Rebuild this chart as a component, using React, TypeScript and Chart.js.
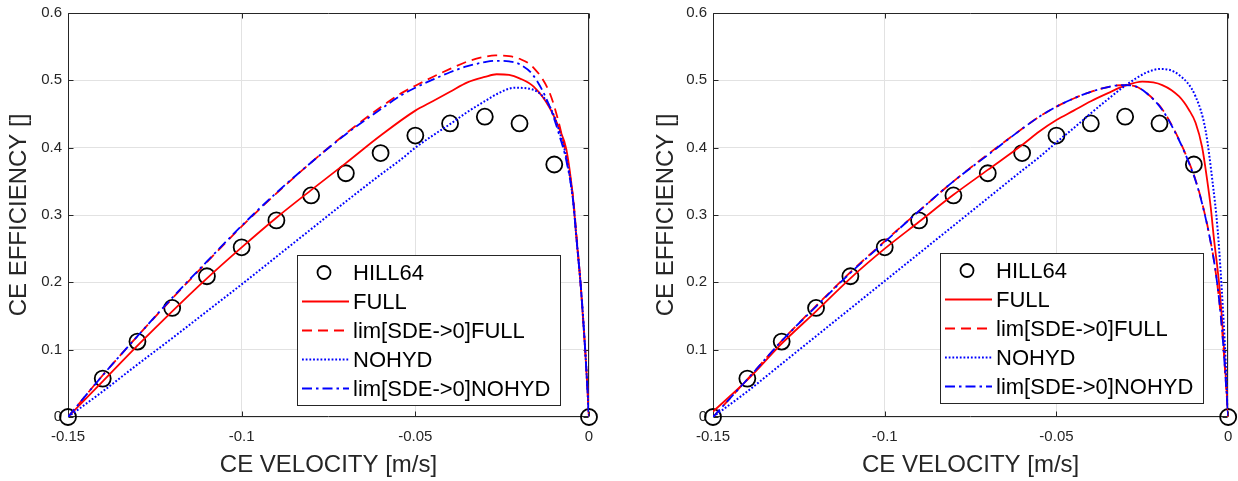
import React, { useEffect, useRef } from "react";
import { Chart, registerables } from "chart.js";

Chart.register(...registerables);

// ---------- data ----------
const X_TICKS = [-0.15, -0.1, -0.05, 0];
const X_TICK_LABELS = ["-0.15", "-0.1", "-0.05", "0"];
const Y_TICKS = [0, 0.1, 0.2, 0.3, 0.4, 0.5, 0.6];
const Y_TICK_LABELS = ["0", "0.1", "0.2", "0.3", "0.4", "0.5", "0.6"];

const SERIES_NAMES = ["HILL64", "FULL", "lim[SDE->0]FULL", "NOHYD", "lim[SDE->0]NOHYD"];

const hillX = [-0.15, -0.14, -0.13, -0.12, -0.11, -0.1, -0.09, -0.08, -0.07, -0.06, -0.05, -0.04, -0.03, -0.02, -0.01, 0];
const hillY = [0, 0.057, 0.112, 0.162, 0.209, 0.252, 0.292, 0.329, 0.362, 0.392, 0.418, 0.436, 0.446, 0.436, 0.375, 0];

// left panel
const leftFullX = [-0.15, -0.14, -0.13, -0.12, -0.11, -0.1, -0.09, -0.08, -0.07, -0.06, -0.05, -0.045, -0.04, -0.035, -0.03, -0.0266, -0.023, -0.02, -0.016, -0.0113, -0.0084, -0.0065, -0.0046, -0.0036, -0.0023, -0.0011, 0];
const leftFullY = [0, 0.053, 0.106, 0.157, 0.206, 0.252, 0.296, 0.337, 0.377, 0.418, 0.455, 0.469, 0.483, 0.497, 0.505, 0.509, 0.508, 0.503, 0.491, 0.459, 0.426, 0.397, 0.325, 0.265, 0.19, 0.1, 0];

const leftLimFullX = [-0.15, -0.14, -0.13, -0.12, -0.11, -0.1, -0.09, -0.08, -0.07, -0.06, -0.054, -0.05, -0.045, -0.04, -0.035, -0.03, -0.027, -0.023, -0.02, -0.016, -0.0113, -0.0084, -0.0065, -0.0046, -0.0036, -0.0023, -0.0011, 0];
const leftLimFullY = [0, 0.062, 0.12, 0.176, 0.23, 0.283, 0.332, 0.378, 0.421, 0.46, 0.481, 0.492, 0.505, 0.517, 0.528, 0.535, 0.537, 0.536, 0.532, 0.519, 0.481, 0.431, 0.386, 0.327, 0.27, 0.19, 0.1, 0];

const leftNohydX = [-0.15, -0.14, -0.13, -0.12, -0.11, -0.1, -0.09, -0.08, -0.07, -0.06, -0.054, -0.05, -0.045, -0.04, -0.035, -0.03, -0.026, -0.0214, -0.016, -0.0113, -0.0084, -0.0065, -0.0046, -0.0036, -0.0023, -0.0011, 0];
const leftNohydY = [0, 0.038, 0.078, 0.117, 0.157, 0.197, 0.238, 0.279, 0.32, 0.36, 0.383, 0.4, 0.418, 0.435, 0.453, 0.469, 0.481, 0.489, 0.486, 0.461, 0.422, 0.385, 0.322, 0.265, 0.19, 0.1, 0];

const leftLimNohydX = [-0.15, -0.14, -0.13, -0.12, -0.11, -0.1, -0.09, -0.08, -0.07, -0.06, -0.054, -0.05, -0.045, -0.04, -0.035, -0.03, -0.027, -0.023, -0.02, -0.016, -0.0113, -0.0084, -0.0065, -0.0046, -0.0036, -0.0023, -0.0011, 0];
const leftLimNohydY = [0, 0.062, 0.12, 0.177, 0.231, 0.284, 0.333, 0.378, 0.42, 0.457, 0.478, 0.489, 0.501, 0.512, 0.521, 0.527, 0.529, 0.528, 0.524, 0.507, 0.461, 0.416, 0.38, 0.322, 0.265, 0.19, 0.1, 0];

// right panel
const rightFullX = [-0.15, -0.14, -0.13, -0.12, -0.11, -0.1, -0.09, -0.08, -0.07, -0.06, -0.055, -0.05, -0.045, -0.04, -0.035, -0.03, -0.025, -0.0192, -0.0143, -0.0114, -0.0095, -0.0076, -0.0061, -0.0051, -0.0042, -0.0025, -0.0012, 0];
const rightFullY = [0.008, 0.055, 0.109, 0.157, 0.206, 0.25, 0.29, 0.33, 0.367, 0.404, 0.424, 0.441, 0.455, 0.469, 0.481, 0.492, 0.498, 0.493, 0.476, 0.456, 0.437, 0.401, 0.351, 0.312, 0.267, 0.19, 0.1, 0];

const rightLimFullX = [-0.15, -0.14, -0.13, -0.12, -0.11, -0.1, -0.09, -0.08, -0.07, -0.06, -0.055, -0.05, -0.045, -0.04, -0.035, -0.031, -0.027, -0.024, -0.0192, -0.0143, -0.0114, -0.0095, -0.0076, -0.0056, -0.0035, -0.0018, 0];
const rightLimFullY = [0, 0.056, 0.113, 0.165, 0.215, 0.261, 0.306, 0.35, 0.39, 0.428, 0.446, 0.461, 0.473, 0.483, 0.49, 0.493, 0.491, 0.482, 0.457, 0.412, 0.378, 0.352, 0.318, 0.273, 0.21, 0.13, 0];

const rightNohydX = [-0.15, -0.14, -0.13, -0.12, -0.11, -0.1, -0.09, -0.08, -0.07, -0.06, -0.055, -0.05, -0.045, -0.04, -0.035, -0.03, -0.024, -0.0196, -0.0143, -0.0095, -0.0066, -0.0046, -0.0031, -0.002, -0.001, 0];
const rightNohydY = [0, 0.038, 0.079, 0.12, 0.161, 0.202, 0.243, 0.284, 0.325, 0.366, 0.386, 0.408, 0.429, 0.451, 0.472, 0.492, 0.511, 0.517, 0.508, 0.476, 0.426, 0.351, 0.28, 0.2, 0.11, 0];

const rightLimNohydX = [-0.15, -0.14, -0.13, -0.12, -0.11, -0.1, -0.09, -0.08, -0.07, -0.06, -0.055, -0.05, -0.045, -0.04, -0.035, -0.031, -0.027, -0.024, -0.0192, -0.0143, -0.0114, -0.0095, -0.0076, -0.0056, -0.0035, -0.0018, 0];
const rightLimNohydY = [0, 0.056, 0.113, 0.164, 0.214, 0.26, 0.306, 0.35, 0.389, 0.428, 0.446, 0.461, 0.473, 0.483, 0.49, 0.493, 0.491, 0.482, 0.456, 0.411, 0.377, 0.351, 0.317, 0.272, 0.21, 0.13, 0];

// ---------- styling ----------
const FONT = "'Liberation Sans', Arial, Helvetica, sans-serif";
const AXIS_COLOR = "#262626";
const GRID_COLOR = "#e2e2e2";
const RED = "#ff0000";
const BLUE = "#0000ff";

const toPts = (xs: number[], ys: number[]) => xs.map((x, i) => ({ x, y: ys[i] }));

const framePlugin = {
  id: "matlabFrame",
  beforeDatasetsDraw(chart: any) {
    const { ctx, chartArea: a, scales } = chart;
    const L = Math.round(a.left) + 0.5;
    const R = Math.round(a.right) - 0.5;
    const T = Math.round(a.top) + 0.5;
    const B = Math.round(a.bottom) - 0.5;
    ctx.save();
    ctx.strokeStyle = AXIS_COLOR;
    ctx.lineWidth = 1;
    ctx.beginPath();
    ctx.rect(L, T, R - L, B - T);
    const tl = 5;
    X_TICKS.forEach((v) => {
      const px = Math.round(scales.x.getPixelForValue(v)) + 0.5;
      ctx.moveTo(px, B);
      ctx.lineTo(px, B - tl);
      ctx.moveTo(px, T);
      ctx.lineTo(px, T + tl);
    });
    Y_TICKS.forEach((v) => {
      const py = Math.round(scales.y.getPixelForValue(v)) + 0.5;
      ctx.moveTo(L, py);
      ctx.lineTo(L + tl, py);
      ctx.moveTo(R, py);
      ctx.lineTo(R - tl, py);
    });
    ctx.stroke();
    ctx.restore();
  },
  afterDatasetsDraw(chart: any, _args: any, opts: any) {
    const box = opts && opts.box;
    if (!box) return;
    const { ctx } = chart;
    ctx.save();
    ctx.fillStyle = "#ffffff";
    ctx.fillRect(box.x, box.y, box.w, box.h);
    ctx.strokeStyle = AXIS_COLOR;
    ctx.lineWidth = 1;
    ctx.strokeRect(box.x + 0.5, box.y + 0.5, box.w - 1, box.h - 1);
    const rowH = (box.h - 35) / 4;
    chart.data.datasets.forEach((ds: any, i: number) => {
      const cy = box.y + 17.5 + i * rowH;
      if (ds.showLine === false) {
        ctx.beginPath();
        ctx.arc(box.x + 27, cy, 6.5, 0, Math.PI * 2);
        ctx.strokeStyle = "#000";
        ctx.lineWidth = 1.8;
        ctx.setLineDash([]);
        ctx.stroke();
      } else {
        ctx.beginPath();
        ctx.moveTo(box.x + 5, cy);
        ctx.lineTo(box.x + 52, cy);
        ctx.strokeStyle = ds.borderColor;
        ctx.lineWidth = ds.borderWidth;
        ctx.setLineDash(ds.borderDash || []);
        ctx.stroke();
      }
      ctx.setLineDash([]);
      ctx.fillStyle = "#000";
      ctx.font = `22px ${FONT}`;
      ctx.textAlign = "left";
      ctx.textBaseline = "middle";
      ctx.fillText(ds.label, box.x + 56, cy + 1);
    });
    ctx.restore();
  },
};

type Panel = {
  full: [number[], number[]];
  limFull: [number[], number[]];
  nohyd: [number[], number[]];
  limNohyd: [number[], number[]];
  yAxisWidth: number;
  padRight: number;
  yTitlePad: number;
  legend: { x: number; y: number; w: number; h: number };
};

function makeConfig(p: Panel): any {
  const lineBase = {
    showLine: true,
    pointRadius: 0,
    borderWidth: 1.8,
    fill: false,
    cubicInterpolationMode: "monotone",
  };
  return {
    type: "scatter",
    data: {
      datasets: [
        {
          label: SERIES_NAMES[0],
          data: toPts(hillX, hillY),
          showLine: false,
          pointRadius: 8,
          pointBorderWidth: 1.8,
          pointBorderColor: "#000",
          pointBackgroundColor: "rgba(0,0,0,0)",
          borderColor: "#000",
          clip: false,
          order: 5,
        },
        { ...lineBase, label: SERIES_NAMES[1], data: toPts(p.full[0], p.full[1]), borderColor: RED, borderDash: [], order: 4 },
        { ...lineBase, label: SERIES_NAMES[2], data: toPts(p.limFull[0], p.limFull[1]), borderColor: RED, borderDash: [10, 6], order: 3 },
        { ...lineBase, label: SERIES_NAMES[3], data: toPts(p.nohyd[0], p.nohyd[1]), borderColor: BLUE, borderWidth: 2, borderDash: [1.8, 1.9], order: 2 },
        { ...lineBase, label: SERIES_NAMES[4], data: toPts(p.limNohyd[0], p.limNohyd[1]), borderColor: BLUE, borderDash: [10, 4, 2.5, 4], order: 1 },
      ],
    },
    options: {
      responsive: false,
      animation: false,
      events: [],
      layout: { padding: { left: 0, right: p.padRight, top: 13, bottom: 0 } },
      plugins: {
        legend: { display: false },
        tooltip: { enabled: false },
        matlabFrame: { box: p.legend },
      },
      scales: {
        x: {
          type: "linear",
          min: -0.15,
          max: 0,
          afterBuildTicks: (s: any) => {
            s.ticks = X_TICKS.map((value) => ({ value }));
          },
          afterFit: (s: any) => {
            s.height = 64;
            s.paddingLeft = 0;
            s.paddingRight = 0;
          },
          ticks: {
            autoSkip: false,
            maxRotation: 0,
            padding: 11,
            color: AXIS_COLOR,
            font: { family: FONT, size: 15 },
            callback: (_v: any, i: number) => X_TICK_LABELS[i],
          },
          grid: { color: GRID_COLOR, drawTicks: false, lineWidth: 1 },
          border: { display: false },
          title: {
            display: true,
            text: "CE VELOCITY [m/s]",
            color: AXIS_COLOR,
            font: { family: FONT, size: 24 },
            padding: { top: 0, bottom: 1 },
          },
        },
        y: {
          type: "linear",
          min: 0,
          max: 0.6,
          afterBuildTicks: (s: any) => {
            s.ticks = Y_TICKS.map((value) => ({ value }));
          },
          afterFit: (s: any) => {
            s.width = p.yAxisWidth;
            s.paddingTop = 0;
            s.paddingBottom = 0;
          },
          ticks: {
            autoSkip: false,
            padding: 6,
            color: AXIS_COLOR,
            font: { family: FONT, size: 15 },
            callback: (_v: any, i: number) => Y_TICK_LABELS[i],
          },
          grid: { color: GRID_COLOR, drawTicks: false, lineWidth: 1 },
          border: { display: false },
          title: {
            display: true,
            text: "CE EFFICIENCY []",
            color: AXIS_COLOR,
            font: { family: FONT, size: 24 },
            padding: { top: p.yTitlePad, bottom: 0 },
          },
        },
      },
    },
    plugins: [framePlugin],
  };
}

const LEFT_PANEL: Panel = {
  full: [leftFullX, leftFullY],
  limFull: [leftLimFullX, leftLimFullY],
  nohyd: [leftNohydX, leftNohydY],
  limNohyd: [leftLimNohydX, leftLimNohydY],
  yAxisWidth: 68,
  padRight: 31,
  yTitlePad: 5,
  legend: { x: 297, y: 255, w: 264, h: 151 },
};

const RIGHT_PANEL: Panel = {
  full: [rightFullX, rightFullY],
  limFull: [rightLimFullX, rightLimFullY],
  nohyd: [rightNohydX, rightNohydY],
  limNohyd: [rightLimNohydX, rightLimNohydY],
  yAxisWidth: 93,
  padRight: 9,
  yTitlePad: 32,
  legend: { x: 320, y: 253, w: 264, h: 151 },
};

function PanelChart({ panel, left, width }: { panel: Panel; left: number; width: number }) {
  const ref = useRef<HTMLCanvasElement | null>(null);
  useEffect(() => {
    if (!ref.current) return;
    const chart = new Chart(ref.current, makeConfig(panel));
    return () => chart.destroy();
  }, [panel]);
  return (
    <canvas
      ref={ref}
      width={width}
      height={481}
      style={{ position: "absolute", left, top: 0, width, height: 481, display: "block" }}
    />
  );
}

export default function App() {
  return (
    <div style={{ position: "absolute", left: 0, top: 0, width: 1238, height: 481, background: "#ffffff", overflow: "hidden" }}>
      <PanelChart panel={LEFT_PANEL} left={0} width={620} />
      <PanelChart panel={RIGHT_PANEL} left={620} width={618} />
    </div>
  );
}
